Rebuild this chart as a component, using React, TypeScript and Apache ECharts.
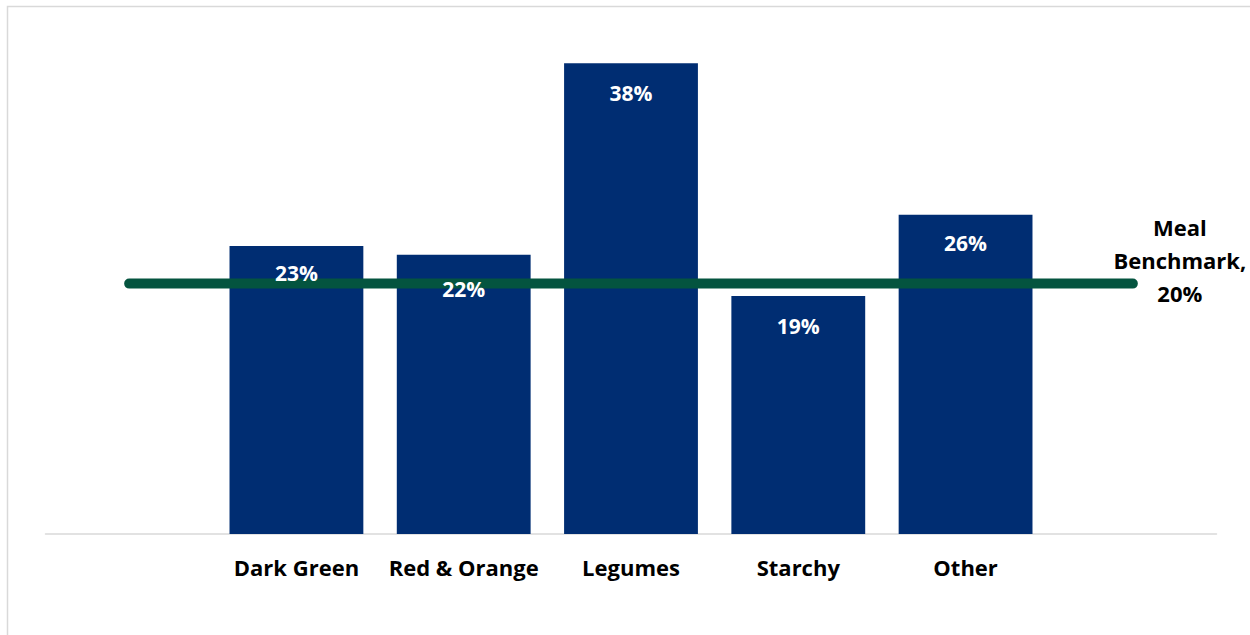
import React, { useEffect, useRef } from "react";
import * as echarts from "echarts";

const categories = ["", "Dark Green", "Red & Orange", "Legumes", "Starchy", "Other", ""];
const shares = [null, 23.0, 22.3, 37.6, 19.0, 25.5, null];
const labelDistances = [0, 16, 24, 19, 19, 18, 0];
const benchmark = [20, 20, 20, 20, 20, 20, 20];
const benchmarkLabel = "Meal\nBenchmark,\n20%";

const FONT = "'Open Sans', Lato, sans-serif";

export default function App() {
  const ref = useRef<HTMLDivElement>(null);
  useEffect(() => {
    if (!ref.current) return;
    const chart = echarts.init(ref.current, undefined, { renderer: "svg" });
    chart.setOption({
      animation: false,
      backgroundColor: "#ffffff",
      grid: { left: 45.5, right: 33.5, top: 33.2, bottom: 101, containLabel: false },
      graphic: [
        {
          type: "rect",
          shape: { x: 7.5, y: 6.5, width: 1400, height: 800 },
          style: { fill: "none", stroke: "#D9D9D9", lineWidth: 1.5 },
          silent: true,
        },
      ],
      xAxis: {
        type: "category",
        data: categories,
        axisLine: { show: true, lineStyle: { color: "#D9D9D9", width: 1.5 } },
        axisTick: { show: false },
        axisLabel: {
          color: "#000000",
          fontFamily: FONT,
          fontWeight: "bold",
          fontSize: 22,
          margin: 22,
          interval: 0,
        },
      },
      yAxis: {
        type: "value",
        min: 0,
        max: 40,
        show: false,
        splitLine: { show: false },
      },
      series: [
        {
          type: "bar",
          data: shares,
          barCategoryGap: "20%",
          itemStyle: { color: "#002D72" },
          z: 1,
        },
        {
          type: "line",
          data: benchmark,
          showSymbol: false,
          symbol: "none",
          lineStyle: { color: "#04543F", width: 10, cap: "round" },
          z: 2,
          markPoint: {
            symbol: "rect",
            symbolSize: 1,
            itemStyle: { color: "transparent" },
            data: [
              {
                coord: [categories.length - 1, benchmark[benchmark.length - 1]],
                label: {
                  show: true,
                  position: "inside",
                  offset: [47, -23.5],
                  formatter: benchmarkLabel,
                  color: "#000000",
                  fontFamily: FONT,
                  fontWeight: "bold",
                  fontSize: 22,
                  lineHeight: 33,
                  align: "center",
                  verticalAlign: "middle",
                },
              },
            ],
          },
        },
        {
          type: "bar",
          data: shares.map((v, i) =>
            v === null ? null : { value: v, label: { distance: labelDistances[i] } }
          ),
          barGap: "-100%",
          barCategoryGap: "20%",
          itemStyle: { color: "transparent" },
          label: {
            show: true,
            position: "insideTop",
            color: "#ffffff",
            fontFamily: FONT,
            fontWeight: "bold",
            fontSize: 21,
            formatter: (p: any) => `${Math.round(p.value)}%`,
          },
          z: 3,
        },
      ],
    });
    return () => chart.dispose();
  }, []);
  return (
    <div
      ref={ref}
      style={{ position: "fixed", left: 0, top: 0, width: 1250, height: 635 }}
    />
  );
}
